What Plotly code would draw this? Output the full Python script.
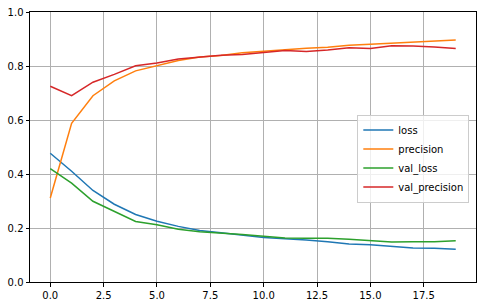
import plotly.graph_objects as go

epochs = list(range(20))
loss = [0.477, 0.410, 0.339, 0.288, 0.250, 0.225, 0.206, 0.191, 0.182, 0.173,
        0.165, 0.160, 0.156, 0.149, 0.141, 0.138, 0.133, 0.126, 0.125, 0.121]
precision = [0.311, 0.588, 0.690, 0.745, 0.782, 0.801, 0.820, 0.833, 0.839, 0.849,
             0.855, 0.860, 0.866, 0.869, 0.877, 0.881, 0.885, 0.890, 0.892, 0.896]
val_loss = [0.420, 0.366, 0.299, 0.261, 0.224, 0.212, 0.195, 0.186, 0.182, 0.176,
            0.169, 0.163, 0.162, 0.162, 0.158, 0.154, 0.148, 0.149, 0.149, 0.153]
val_precision = [0.725, 0.690, 0.740, 0.769, 0.801, 0.811, 0.826, 0.833, 0.840, 0.843,
                 0.849, 0.857, 0.854, 0.859, 0.868, 0.865, 0.875, 0.874, 0.870, 0.865]

series = [("loss", loss, "#1f77b4"), ("precision", precision, "#ff7f0e"),
          ("val_loss", val_loss, "#2ca02c"), ("val_precision", val_precision, "#d62728")]

fig = go.Figure()
for name, vals, color in series:
    fig.add_trace(go.Scatter(x=epochs, y=vals, mode="lines", name=name,
                             line=dict(color=color, width=1.5)))

axis_common = dict(showgrid=True, gridcolor="#b0b0b0", gridwidth=0.8,
                   showline=True, linecolor="black", linewidth=1, mirror=True,
                   ticks="outside", ticklen=3.5, tickcolor="black", tickwidth=0.8,
                   zeroline=False, tickfont=dict(family="DejaVu Sans", size=10, color="black"),
                   tickformat=".1f")

fig.update_layout(
    width=483, height=307,
    margin=dict(l=30, r=6, t=11, b=24),
    paper_bgcolor="white", plot_bgcolor="white",
    font=dict(family="DejaVu Sans", size=10, color="black"),
    xaxis=dict(range=[-0.95, 19.95], tick0=0, dtick=2.5, **axis_common),
    yaxis=dict(range=[0, 1.0], tick0=0, dtick=0.2, **axis_common),
    legend=dict(x=0.985, y=0.62, xanchor="right", yanchor="top",
                bgcolor="rgba(255,255,255,0.8)", bordercolor="#cccccc", borderwidth=1,
                font=dict(family="DejaVu Sans", size=10), tracegroupgap=0,
                itemwidth=30),
    showlegend=True,
)

fig.write_html("out.html")
